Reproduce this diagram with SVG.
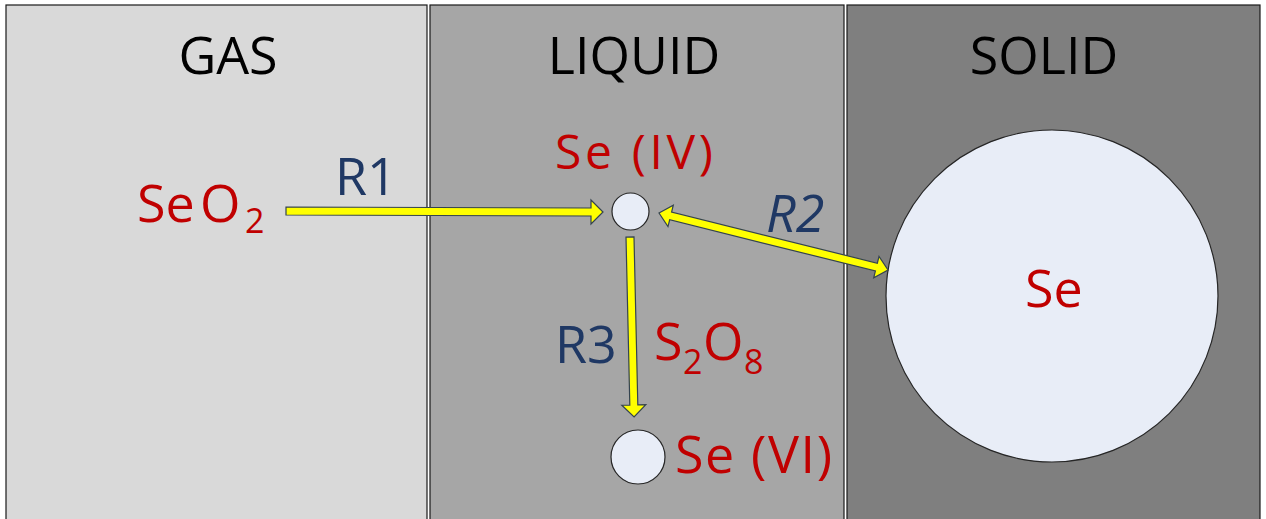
<svg xmlns="http://www.w3.org/2000/svg" width="1266" height="519" viewBox="0 0 1266 519">
<style>
.panel{stroke:#1a1a1a;stroke-width:1.2}
.title{font-family:"Open Sans","Liberation Sans",sans-serif;font-size:52px;fill:#000}
.red{font-family:"Open Sans","Liberation Sans",sans-serif;fill:#c00000}
.blue{font-family:"Open Sans","Liberation Sans",sans-serif;fill:#1f3864}
.node{fill:#e8edf7;stroke:#262626;stroke-width:1.2}
.arrow{fill:#ffff00;stroke:#34434f;stroke-width:1.2}
</style>
<rect width="1266" height="519" fill="#ffffff"/>
<g id="gas">
<rect class="panel" x="6" y="5" width="421" height="520" fill="#d9d9d9"/>
<text class="title" x="228" y="74" text-anchor="middle">GAS</text>
</g>
<g id="liquid">
<rect class="panel" x="430" y="5" width="414" height="520" fill="#a6a6a6"/>
<text class="title" x="634" y="74" text-anchor="middle">LIQUID</text>
</g>
<g id="solid">
<rect class="panel" x="847" y="5" width="413" height="520" fill="#7f7f7f"/>
<text class="title" x="1044" y="74" text-anchor="middle">SOLID</text>
</g>
<g id="seo2">
<text class="red" x="137" y="222" font-size="52">Se</text>
<text class="red" x="200" y="222" font-size="52">O</text>
<text class="red" x="245" y="233" font-size="34">2</text>
</g>
<g id="se4">
<circle class="node" cx="630.5" cy="211.5" r="18.5"/>
<text class="red" x="555" y="169" font-size="48" textLength="158" lengthAdjust="spacing">Se (IV)</text>
</g>
<g id="se6">
<circle class="node" cx="638" cy="457" r="27"/>
<text class="red" x="675" y="473" font-size="52" textLength="157" lengthAdjust="spacing">Se (VI)</text>
</g>
<g id="se-solid">
<circle class="node" cx="1052" cy="296" r="166"/>
<text class="red" x="1025" y="307" font-size="52">Se</text>
</g>
<g id="connectors">
<polygon class="arrow" points="286,207 591,208 591,200 603,212 591,224 591,216 286,215"/>
<polygon class="arrow" transform="translate(630,237) rotate(88.7)" points="0,-4 168,-4 168,-12 180,0 168,12 168,4 0,4"/>
<polygon class="arrow" transform="translate(659,213) rotate(13.98)" points="0,0 12,-11 12,-4 224,-4 224,-11 236,0 224,11 224,4 12,4 12,11"/>
<text class="blue" x="335" y="195" font-size="52">R1</text>
<text class="blue" x="766" y="232" font-size="52" font-style="italic">R2</text>
<text class="blue" x="555" y="363" font-size="52">R3</text>
<text class="red" x="654" y="360" font-size="52">S</text>
<text class="red" x="683" y="374" font-size="34">2</text>
<text class="red" x="703" y="360" font-size="52">O</text>
<text class="red" x="744" y="374" font-size="34">8</text>
</g>
</svg>
